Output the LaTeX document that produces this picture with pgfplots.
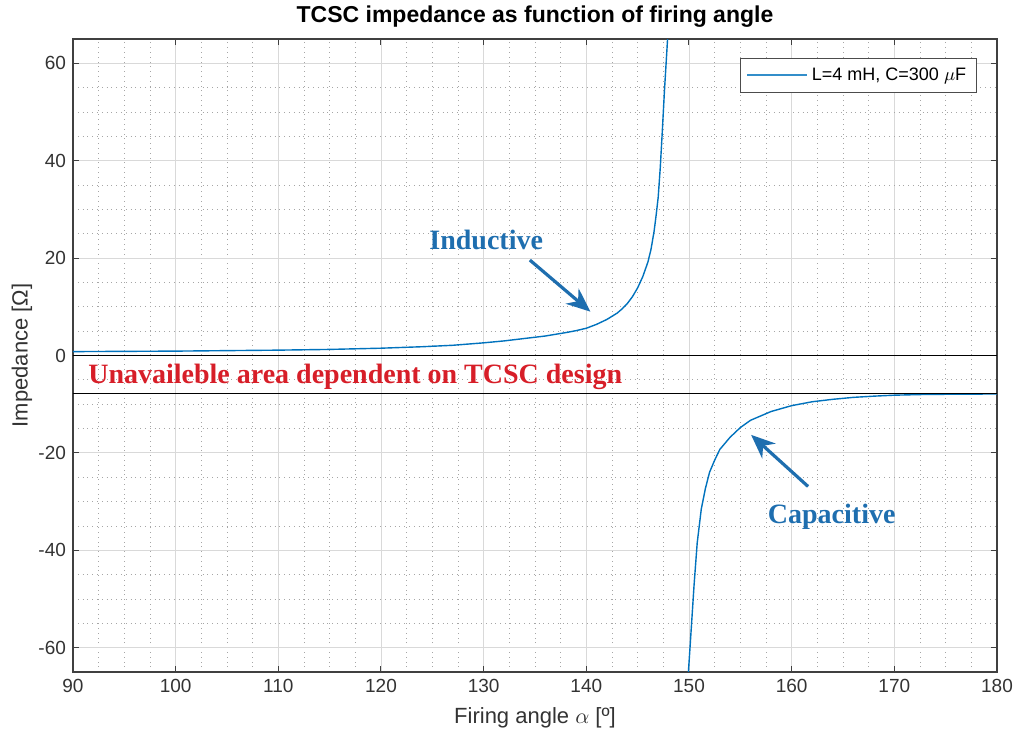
\documentclass[border=0pt]{standalone}
\usepackage{pgfplots}
\pgfplotsset{compat=1.18}
\usepackage{fontspec}
\setmainfont{Liberation Sans}
\newfontfamily\serifbold{Liberation Serif}
\usetikzlibrary{arrows.meta}
\definecolor{mblue}{rgb}{0,0.447,0.741}
\definecolor{annblue}{RGB}{30,110,175}
\definecolor{annred}{RGB}{215,30,40}
\begin{document}
\begin{tikzpicture}
\useasboundingbox (-36.5pt,-30pt) rectangle (472.5pt,336pt);
\begin{axis}[
  name=ax,
  at={(0,0)}, anchor=south west,
  scale only axis, width=462pt, height=316.5pt,
  xmin=90, xmax=180, ymin=-65, ymax=65,
  xtick={90,100,...,180}, ytick={-60,-40,...,60},
  minor x tick num=3, minor y tick num=3,
  grid=both,
  major grid style={black!15, line width=0.4pt},
  minor grid style={black!35, dotted, line width=0.4pt},
  axis line style={black!75, line width=0.6pt},
  tick style={black!75, line width=0.5pt},
  major tick length=3pt, minor tick length=0pt,
  tick align=inside,
  tick label style={font=\fontsize{9.5}{11}\selectfont, text=black!80},
  /pgf/number format/assume math mode=true,
  xlabel={Firing angle $\alpha$ [º]},
  ylabel={Impedance [Ω]},
  label style={font=\fontsize{11}{13}\selectfont, text=black!80},
  xlabel style={at={(axis description cs:0.5,-0.0727)}, anchor=center},
  ylabel style={at={(axis description cs:-0.0552,0.5)}, anchor=center},
  legend style={at={(0.978,0.970)}, anchor=north east, draw=black!70, line width=0.5pt,
    font=\fontsize{9}{10}\selectfont, inner xsep=3pt, inner ysep=2.5pt, cells={anchor=west}},
  legend image code/.code={\draw[mblue!80, line width=0.8pt] (0pt,0pt) -- (30pt,0pt);},
]
\addplot[mblue, line width=0.7pt] coordinates {
(90,0.8) (95,0.85) (100,0.9) (105,1.0) (110,1.1) (115,1.25) (120,1.5) (124,1.8)
(127,2.1) (130,2.6) (132,3.0) (134,3.5) (136,4.0) (138,4.7) (139,5.1) (140,5.6)
(141,6.4) (142,7.4) (143,8.7) (143.5,9.6) (144,10.7) (144.5,12.1) (145,13.9)
(145.5,16.2) (146,19.2) (146.3,21.8) (146.6,25.5) (146.8,28.8) (147,32.5)
(147.2,38.5) (147.4,46) (147.6,54) (147.8,61) (148,68)
};
\addlegendentry{L=4 mH, C=300 $\mu$F}
\addplot[mblue, line width=0.7pt, forget plot] coordinates {
(149.88,-67) (150.1,-60) (150.3,-53.5) (150.5,-47) (150.8,-38.5) (151.2,-31.5)
(151.6,-27.3) (152,-24) (152.5,-21.5) (153,-19.3) (154,-16.8) (155,-14.8)
(156,-13.3) (158,-11.5) (160,-10.3) (162,-9.5) (164,-9.0) (166,-8.6) (168,-8.35)
(170,-8.15) (173,-8.0) (176,-7.95) (180,-7.9)
};
\addplot[black, line width=0.9pt, forget plot] coordinates {(90,0) (180,0)};
\addplot[black, line width=0.9pt, forget plot] coordinates {(90,-7.8) (180,-7.8)};
\node[font=\serifbold\bfseries\fontsize{14}{16}\selectfont, text=annblue] at (axis cs:130.25,23.7) {Inductive};
\draw[annblue, line width=1.6pt, -{Stealth[length=12pt,width=10pt]}] (axis cs:134.5,19.6) -- (axis cs:140.4,9.0);
\node[font=\serifbold\bfseries\fontsize{14}{16}\selectfont, text=annblue] at (axis cs:163.9,-33.1) {Capacitive};
\draw[annblue, line width=1.6pt, -{Stealth[length=12pt,width=10pt]}] (axis cs:161.6,-26.9) -- (axis cs:156.05,-16.3);
\node[font=\serifbold\bfseries\fontsize{14}{16}\selectfont, text=annred, anchor=west, inner sep=0pt] at (axis cs:91.45,-4.4) {Unavaileble area dependent on TCSC design};
\end{axis}
\node[font=\bfseries\fontsize{11.5}{13}\selectfont, anchor=center] at ([yshift=11pt]ax.north) {TCSC impedance as function of firing angle};
\end{tikzpicture}
\end{document}
